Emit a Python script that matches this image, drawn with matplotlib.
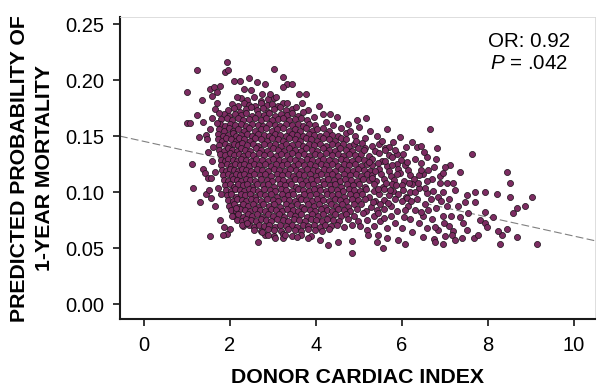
import matplotlib
matplotlib.use("Agg")
import matplotlib.pyplot as plt
import numpy as np

plt.rcParams["font.family"] = ["Liberation Sans", "DejaVu Sans"]
plt.rcParams["mathtext.fontset"] = "custom"
plt.rcParams["mathtext.it"] = "Liberation Sans:italic"
plt.rcParams["mathtext.rm"] = "Liberation Sans"

# donor cardiac index, predicted probability -- pairs
core_upper = [
    2.26, 0.184, 2.41, 0.182, 2.57, 0.185, 2.73, 0.181, 2.88, 0.183, 3.04, 0.184,
    2.06, 0.179, 2.19, 0.177, 2.33, 0.180, 2.45, 0.178, 2.60, 0.177, 2.72, 0.180,
    2.86, 0.178, 2.99, 0.179, 3.12, 0.177, 3.25, 0.180,
    1.96, 0.173, 2.10, 0.175, 2.23, 0.172, 2.37, 0.174, 2.50, 0.176, 2.63, 0.173,
    2.77, 0.175, 2.90, 0.172, 3.03, 0.174, 3.17, 0.176, 3.30, 0.173, 3.44, 0.174,
    1.86, 0.170, 1.99, 0.168, 2.12, 0.170, 2.26, 0.169, 2.39, 0.171, 2.52, 0.168,
    2.66, 0.170, 2.79, 0.169, 2.92, 0.171, 3.06, 0.168, 3.19, 0.170, 3.33, 0.169,
    3.46, 0.171, 3.60, 0.168,
    1.81, 0.165, 1.94, 0.166, 2.06, 0.164, 2.19, 0.166, 2.32, 0.164, 2.46, 0.165,
    2.58, 0.166, 2.72, 0.164, 2.85, 0.166, 2.98, 0.164, 3.12, 0.165, 3.25, 0.166,
    3.38, 0.164, 3.52, 0.165, 3.65, 0.166, 3.79, 0.164,
    1.77, 0.161, 1.90, 0.159, 2.00, 0.161, 2.13, 0.160, 2.26, 0.161, 2.39, 0.159,
    2.52, 0.161, 2.65, 0.160, 2.78, 0.159, 2.91, 0.161, 3.05, 0.160, 3.18, 0.159,
    3.31, 0.161, 3.45, 0.160, 3.58, 0.161, 3.71, 0.159, 3.85, 0.161, 3.98, 0.160,
    1.75, 0.156, 1.87, 0.155, 1.99, 0.157, 2.07, 0.155, 2.20, 0.156, 2.33, 0.155,
    2.46, 0.157, 2.59, 0.155, 2.72, 0.156, 2.85, 0.157, 2.98, 0.155, 3.11, 0.156,
    3.24, 0.157, 3.38, 0.155, 3.51, 0.156, 3.64, 0.155, 3.77, 0.157, 3.91, 0.155,
    4.04, 0.156, 4.18, 0.157, 4.30, 0.155,
    1.73, 0.152, 1.85, 0.150, 1.96, 0.151, 2.08, 0.153, 2.15, 0.150, 2.27, 0.151,
    2.40, 0.152, 2.53, 0.150, 2.66, 0.152, 2.79, 0.151, 2.92, 0.150, 3.05, 0.152,
    3.18, 0.151, 3.31, 0.150, 3.44, 0.152, 3.57, 0.151, 3.70, 0.150, 3.84, 0.152,
    3.97, 0.151, 4.11, 0.150, 4.24, 0.152, 4.37, 0.151, 4.51, 0.150,
]

core_middle = [
    1.72, 0.147, 1.82, 0.146, 1.91, 0.148, 2.02, 0.147, 2.14, 0.146, 2.21, 0.148,
    2.34, 0.147, 2.47, 0.146, 2.60, 0.148, 2.73, 0.147, 2.86, 0.146, 2.99, 0.148,
    3.12, 0.147, 3.25, 0.146, 3.38, 0.148, 3.51, 0.147, 3.64, 0.146, 3.77, 0.148,
    3.90, 0.147, 4.04, 0.146, 4.17, 0.148, 4.31, 0.147, 4.44, 0.146, 4.58, 0.148,
    4.71, 0.147,
    1.75, 0.142, 1.88, 0.143, 1.98, 0.141, 2.09, 0.143, 2.20, 0.142, 2.28, 0.144,
    2.41, 0.142, 2.54, 0.143, 2.67, 0.141, 2.80, 0.143, 2.93, 0.142, 3.06, 0.143,
    3.19, 0.141, 3.32, 0.143, 3.45, 0.142, 3.58, 0.143, 3.71, 0.141, 3.84, 0.143,
    3.97, 0.142, 4.10, 0.143, 4.24, 0.141, 4.37, 0.143, 4.51, 0.142, 4.64, 0.143,
    4.77, 0.141, 4.90, 0.143,
    1.76, 0.138, 1.86, 0.137, 1.95, 0.139, 2.05, 0.138, 2.16, 0.137, 2.26, 0.139,
    2.35, 0.138, 2.48, 0.137, 2.61, 0.139, 2.74, 0.138, 2.87, 0.137, 3.00, 0.139,
    3.13, 0.138, 3.26, 0.137, 3.39, 0.139, 3.52, 0.138, 3.65, 0.137, 3.78, 0.139,
    3.91, 0.138, 4.04, 0.137, 4.17, 0.139, 4.31, 0.138, 4.44, 0.137, 4.57, 0.139,
    4.70, 0.138, 4.84, 0.137, 4.98, 0.139,
    1.78, 0.134, 1.90, 0.133, 2.01, 0.135, 2.11, 0.133, 2.22, 0.134, 2.31, 0.132,
    2.42, 0.134, 2.55, 0.133, 2.68, 0.135, 2.81, 0.133, 2.94, 0.134, 3.07, 0.132,
    3.20, 0.134, 3.33, 0.133, 3.46, 0.135, 3.59, 0.133, 3.72, 0.134, 3.85, 0.132,
    3.98, 0.134, 4.11, 0.133, 4.24, 0.135, 4.38, 0.133, 4.51, 0.134, 4.64, 0.132,
    4.77, 0.134, 4.91, 0.133, 5.05, 0.134,
    1.79, 0.129, 1.88, 0.128, 1.97, 0.130, 2.07, 0.129, 2.17, 0.128, 2.27, 0.130,
    2.37, 0.129, 2.49, 0.128, 2.62, 0.130, 2.75, 0.129, 2.88, 0.128, 3.01, 0.130,
    3.14, 0.129, 3.27, 0.128, 3.40, 0.130, 3.53, 0.129, 3.66, 0.128, 3.79, 0.130,
    3.92, 0.129, 4.05, 0.128, 4.18, 0.130, 4.31, 0.129, 4.45, 0.128, 4.58, 0.130,
    4.71, 0.129, 4.85, 0.128, 4.98, 0.130, 5.12, 0.129,
    1.81, 0.124, 1.93, 0.125, 2.03, 0.123, 2.13, 0.125, 2.23, 0.124, 2.33, 0.125,
    2.44, 0.123, 2.56, 0.125, 2.69, 0.124, 2.82, 0.125, 2.95, 0.123, 3.08, 0.125,
    3.21, 0.124, 3.34, 0.125, 3.47, 0.123, 3.60, 0.125, 3.73, 0.124, 3.86, 0.125,
    3.99, 0.123, 4.12, 0.125, 4.25, 0.124, 4.38, 0.125, 4.52, 0.123, 4.65, 0.125,
    4.78, 0.124, 4.92, 0.125, 5.05, 0.123, 5.19, 0.125, 5.30, 0.124,
    1.83, 0.120, 1.92, 0.119, 2.00, 0.121, 2.09, 0.120, 2.19, 0.119, 2.29, 0.121,
    2.39, 0.120, 2.50, 0.119, 2.63, 0.121, 2.76, 0.120, 2.89, 0.119, 3.02, 0.121,
    3.15, 0.120, 3.28, 0.119, 3.41, 0.121, 3.54, 0.120, 3.67, 0.119, 3.80, 0.121,
    3.93, 0.120, 4.06, 0.119, 4.19, 0.121, 4.32, 0.120, 4.46, 0.119, 4.59, 0.121,
    4.72, 0.120, 4.86, 0.119, 4.99, 0.121, 5.13, 0.120, 5.27, 0.119,
    1.85, 0.115, 1.96, 0.116, 2.05, 0.114, 2.14, 0.116, 2.24, 0.115, 2.34, 0.116,
    2.45, 0.114, 2.57, 0.116, 2.70, 0.115, 2.83, 0.116, 2.96, 0.114, 3.09, 0.116,
    3.22, 0.115, 3.35, 0.116, 3.48, 0.114, 3.61, 0.116, 3.74, 0.115, 3.87, 0.116,
    4.00, 0.114, 4.13, 0.116, 4.26, 0.115, 4.39, 0.116, 4.53, 0.114, 4.66, 0.116,
    4.79, 0.115, 4.93, 0.116, 5.06, 0.114, 5.20, 0.116, 5.31, 0.115,
    1.87, 0.111, 1.97, 0.110, 2.08, 0.112, 2.17, 0.111, 2.27, 0.110, 2.37, 0.112,
    2.48, 0.111, 2.60, 0.110, 2.73, 0.112, 2.86, 0.111, 2.99, 0.110, 3.12, 0.112,
    3.25, 0.111, 3.38, 0.110, 3.51, 0.112, 3.64, 0.111, 3.77, 0.110, 3.90, 0.112,
    4.03, 0.111, 4.16, 0.110, 4.29, 0.112, 4.42, 0.111, 4.56, 0.110, 4.69, 0.112,
    4.82, 0.111, 4.96, 0.110, 5.09, 0.112, 5.23, 0.111,
]

core_lower = [
    1.89, 0.106, 2.00, 0.107, 2.10, 0.105, 2.20, 0.107, 2.30, 0.106, 2.41, 0.107,
    2.52, 0.105, 2.64, 0.107, 2.77, 0.106, 2.90, 0.107, 3.03, 0.105, 3.16, 0.107,
    3.29, 0.106, 3.42, 0.107, 3.55, 0.105, 3.68, 0.107, 3.81, 0.106, 3.94, 0.107,
    4.07, 0.105, 4.20, 0.107, 4.33, 0.106, 4.46, 0.107, 4.60, 0.105, 4.73, 0.107,
    4.86, 0.106, 5.00, 0.107, 5.14, 0.105,
    1.91, 0.102, 2.02, 0.101, 2.12, 0.103, 2.23, 0.102, 2.33, 0.101, 2.44, 0.103,
    2.55, 0.102, 2.67, 0.101, 2.80, 0.103, 2.93, 0.102, 3.06, 0.101, 3.19, 0.103,
    3.32, 0.102, 3.45, 0.101, 3.58, 0.103, 3.71, 0.102, 3.84, 0.101, 3.97, 0.103,
    4.10, 0.102, 4.23, 0.101, 4.36, 0.103, 4.50, 0.102, 4.63, 0.101, 4.77, 0.103,
    4.90, 0.102, 5.04, 0.101, 5.17, 0.103,
    1.93, 0.097, 2.04, 0.098, 2.15, 0.096, 2.26, 0.098, 2.36, 0.097, 2.47, 0.098,
    2.58, 0.096, 2.70, 0.098, 2.83, 0.097, 2.96, 0.098, 3.09, 0.096, 3.22, 0.098,
    3.35, 0.097, 3.48, 0.098, 3.61, 0.096, 3.74, 0.098, 3.87, 0.097, 4.00, 0.098,
    4.13, 0.096, 4.26, 0.098, 4.39, 0.097, 4.53, 0.098, 4.66, 0.096, 4.80, 0.098,
    4.94, 0.097, 5.08, 0.098,
    1.96, 0.093, 2.07, 0.092, 2.18, 0.094, 2.29, 0.093, 2.39, 0.092, 2.50, 0.094,
    2.62, 0.093, 2.74, 0.092, 2.87, 0.094, 3.00, 0.093, 3.13, 0.092, 3.26, 0.094,
    3.39, 0.093, 3.52, 0.092, 3.65, 0.094, 3.78, 0.093, 3.91, 0.092, 4.04, 0.094,
    4.17, 0.093, 4.30, 0.092, 4.44, 0.094, 4.57, 0.093, 4.71, 0.092, 4.84, 0.094,
    4.98, 0.093,
    1.99, 0.088, 2.10, 0.089, 2.21, 0.087, 2.32, 0.089, 2.43, 0.088, 2.54, 0.089,
    2.66, 0.087, 2.78, 0.089, 2.91, 0.088, 3.04, 0.089, 3.17, 0.087, 3.30, 0.089,
    3.43, 0.088, 3.56, 0.089, 3.69, 0.087, 3.82, 0.089, 3.95, 0.088, 4.08, 0.089,
    4.21, 0.087, 4.35, 0.089, 4.48, 0.088, 4.62, 0.089, 4.75, 0.087, 4.89, 0.089,
    2.03, 0.084, 2.14, 0.083, 2.25, 0.085, 2.36, 0.084, 2.47, 0.083, 2.58, 0.085,
    2.70, 0.084, 2.82, 0.083, 2.95, 0.085, 3.08, 0.084, 3.21, 0.083, 3.34, 0.085,
    3.47, 0.084, 3.60, 0.083, 3.73, 0.085, 3.86, 0.084, 3.99, 0.083, 4.12, 0.085,
    4.26, 0.084, 4.39, 0.083, 4.53, 0.085, 4.66, 0.084, 4.80, 0.083,
    2.09, 0.079, 2.20, 0.080, 2.31, 0.078, 2.42, 0.080, 2.53, 0.079, 2.64, 0.080,
    2.76, 0.078, 2.88, 0.080, 3.01, 0.079, 3.14, 0.080, 3.27, 0.078, 3.40, 0.080,
    3.53, 0.079, 3.66, 0.080, 3.79, 0.078, 3.92, 0.080, 4.05, 0.079, 4.18, 0.080,
    4.31, 0.078, 4.45, 0.080, 4.58, 0.079, 4.71, 0.080,
    2.16, 0.075, 2.28, 0.074, 2.39, 0.076, 2.50, 0.075, 2.61, 0.074, 2.72, 0.076,
    2.84, 0.075, 2.97, 0.074, 3.10, 0.076, 3.23, 0.075, 3.36, 0.074, 3.49, 0.076,
    3.62, 0.075, 3.75, 0.074, 3.88, 0.076, 4.01, 0.075, 4.14, 0.074, 4.27, 0.076,
    4.41, 0.075, 4.55, 0.074,
    2.31, 0.070, 2.44, 0.071, 2.56, 0.069, 2.68, 0.071, 2.80, 0.070, 2.92, 0.071,
    3.05, 0.069, 3.18, 0.071, 3.31, 0.070, 3.44, 0.071, 3.57, 0.069, 3.70, 0.071,
    3.83, 0.070, 3.96, 0.071, 4.09, 0.069, 4.22, 0.071, 4.36, 0.070, 4.49, 0.071,
    2.56, 0.066, 2.72, 0.065, 2.88, 0.067, 3.03, 0.066, 3.19, 0.065, 3.35, 0.067,
    3.51, 0.066, 3.67, 0.065, 3.83, 0.067, 3.99, 0.066, 4.15, 0.065, 4.30, 0.067,
    2.82, 0.062, 3.02, 0.061, 3.24, 0.063, 3.45, 0.061, 3.66, 0.062, 3.88, 0.061,
]

fringe_right = [
    4.70, 0.153, 4.92, 0.150, 4.93, 0.146, 5.15, 0.148, 5.08, 0.144, 5.30, 0.141,
    5.48, 0.143, 5.15, 0.139, 5.38, 0.137, 5.62, 0.139, 5.25, 0.132, 5.47, 0.135,
    5.70, 0.133, 5.88, 0.134, 5.32, 0.130, 5.55, 0.128, 5.78, 0.131, 5.98, 0.129,
    5.45, 0.126, 5.66, 0.123, 5.88, 0.125, 6.08, 0.124, 5.48, 0.121, 5.70, 0.119,
    5.92, 0.121, 6.15, 0.120, 5.52, 0.116, 5.74, 0.114, 5.96, 0.117, 6.20, 0.115,
    5.40, 0.110, 5.60, 0.112, 5.82, 0.111, 6.05, 0.110, 6.28, 0.112, 5.35, 0.107,
    5.56, 0.105, 5.78, 0.107, 6.00, 0.106, 6.25, 0.107, 5.36, 0.101, 5.58, 0.103,
    5.80, 0.101, 6.02, 0.102, 6.20, 0.100, 5.25, 0.096, 5.47, 0.098, 5.70, 0.097,
    5.92, 0.098, 6.10, 0.096, 5.15, 0.094, 5.38, 0.092, 5.60, 0.093, 5.85, 0.094,
    6.00, 0.092, 5.05, 0.089, 5.28, 0.087, 5.50, 0.089, 5.76, 0.088, 4.95, 0.085,
    5.18, 0.083, 5.42, 0.084, 5.60, 0.085, 4.88, 0.079, 5.10, 0.081, 5.35, 0.079,
    4.75, 0.076, 4.98, 0.074, 5.20, 0.075, 4.66, 0.069, 4.85, 0.071, 5.02, 0.070,
    6.30, 0.130, 6.45, 0.126, 6.60, 0.131, 6.75, 0.122, 6.50, 0.116, 6.70, 0.112,
    6.90, 0.108, 6.40, 0.104, 6.60, 0.099, 6.85, 0.096, 6.35, 0.094, 6.55, 0.089,
    6.80, 0.086, 7.05, 0.088, 6.30, 0.084, 6.50, 0.079, 6.70, 0.076, 6.95, 0.079,
    6.40, 0.072, 6.60, 0.068, 6.85, 0.066, 7.10, 0.070, 6.25, 0.064, 6.50, 0.060,
    6.75, 0.058, 7.00, 0.061, 7.20, 0.065, 6.20, 0.076, 6.15, 0.088, 6.95, 0.100,
    7.10, 0.094, 7.30, 0.088, 7.15, 0.079, 6.40, 0.115, 6.10, 0.140, 6.25, 0.145,
    5.95, 0.149, 5.80, 0.145, 5.92, 0.057, 6.08, 0.054, 6.77, 0.055, 6.97, 0.054,
    6.77, 0.069, 7.17, 0.062, 7.24, 0.057, 5.20, 0.066, 5.35, 0.070, 5.50, 0.074,
    5.75, 0.079, 5.90, 0.083, 5.65, 0.068, 5.85, 0.072, 6.05, 0.078, 5.45, 0.062,
    6.00, 0.068,
    5.12, 0.138, 5.25, 0.127, 5.38, 0.119, 5.30, 0.113, 5.44, 0.103, 5.33, 0.091,
    5.46, 0.081, 5.58, 0.077, 5.68, 0.090, 5.72, 0.102, 5.64, 0.108, 5.86, 0.106,
    5.90, 0.116, 5.78, 0.124, 5.62, 0.128, 5.70, 0.140, 5.85, 0.138, 6.02, 0.134,
    6.12, 0.127, 6.18, 0.108, 6.12, 0.095, 6.08, 0.084, 6.22, 0.092, 6.32, 0.100,
    6.38, 0.108, 6.45, 0.120, 6.58, 0.110, 6.62, 0.120, 6.55, 0.104, 6.68, 0.094,
    6.45, 0.082, 6.62, 0.084, 6.72, 0.101, 6.88, 0.114, 6.80, 0.130, 6.92, 0.092,
    6.98, 0.072, 7.05, 0.108, 6.35, 0.140, 6.52, 0.136,
]

outliers = [
    1.01, 0.189, 1.24, 0.209, 1.36, 0.182, 1.24, 0.169, 1.00, 0.162, 1.08, 0.162,
    1.38, 0.163, 1.28, 0.149, 1.45, 0.151, 1.12, 0.125, 1.14, 0.104, 1.31, 0.091,
    1.54, 0.192, 1.64, 0.194, 1.71, 0.189, 1.59, 0.186, 1.77, 0.195, 1.71, 0.180,
    1.66, 0.174, 1.76, 0.171, 1.59, 0.166, 1.71, 0.162, 1.54, 0.156, 1.47, 0.147,
    1.50, 0.136, 1.62, 0.140, 1.58, 0.128, 1.65, 0.118, 1.45, 0.098, 1.52, 0.102,
    1.57, 0.095, 1.66, 0.088, 1.38, 0.121, 1.43, 0.117, 1.50, 0.113, 1.57, 0.113,
    1.73, 0.104, 1.80, 0.098, 1.77, 0.075, 1.87, 0.069, 1.94, 0.063, 2.01, 0.067,
    2.06, 0.079, 2.14, 0.086, 1.55, 0.061, 1.85, 0.062, 2.29, 0.071, 2.40, 0.072,
    2.66, 0.055, 2.76, 0.064, 2.89, 0.062, 3.05, 0.059, 3.24, 0.059, 3.29, 0.062,
    3.56, 0.060, 3.82, 0.059, 4.10, 0.057, 4.29, 0.053, 4.52, 0.055, 4.84, 0.046,
    4.84, 0.056, 5.21, 0.062, 5.42, 0.055, 5.57, 0.050, 5.66, 0.059,
    1.94, 0.216, 1.89, 0.207, 1.96, 0.209, 3.03, 0.210, 3.24, 0.203, 3.34, 0.197,
    3.45, 0.197, 2.45, 0.202, 2.64, 0.198, 2.24, 0.199, 2.10, 0.199, 2.33, 0.192,
    2.50, 0.191, 3.24, 0.194, 3.61, 0.188, 3.78, 0.188, 2.94, 0.188, 3.08, 0.185,
    4.08, 0.177, 3.34, 0.180, 3.68, 0.180, 3.82, 0.173, 4.17, 0.170, 4.33, 0.170,
    4.49, 0.167, 4.96, 0.164, 5.17, 0.166, 2.17, 0.185, 2.75, 0.188, 2.83, 0.197,
    3.95, 0.167, 3.70, 0.172, 3.55, 0.176, 4.25, 0.163, 4.40, 0.160, 4.60, 0.157,
    4.80, 0.155, 5.00, 0.158, 4.75, 0.161, 5.26, 0.155, 5.42, 0.150, 5.54, 0.146,
    5.61, 0.138, 5.66, 0.156, 6.66, 0.156, 6.45, 0.141, 6.82, 0.139, 7.64, 0.134,
    7.12, 0.124, 6.97, 0.117, 7.36, 0.118, 7.00, 0.122, 7.20, 0.108, 7.24, 0.102,
    7.52, 0.097, 7.70, 0.100, 7.47, 0.091, 7.70, 0.091, 7.94, 0.100, 7.94, 0.082,
    7.82, 0.075, 8.12, 0.078, 8.22, 0.098, 8.45, 0.118, 8.52, 0.108, 8.52, 0.096,
    9.03, 0.096, 8.87, 0.088, 8.69, 0.086, 8.60, 0.081, 9.15, 0.054, 8.67, 0.060,
    8.29, 0.054, 8.33, 0.062, 8.25, 0.065, 8.45, 0.067, 7.94, 0.072, 7.99, 0.069,
    7.43, 0.072, 7.52, 0.066, 7.69, 0.059, 7.78, 0.062, 7.40, 0.059, 7.55, 0.081,
    7.36, 0.078,
]

# logistic fit drawn as a dashed line across the axes
fit_ci = [-0.55, 10.5]
fit_prob = [0.150, 0.0565]

x_ticks = [0, 2, 4, 6, 8, 10]
y_ticks = [0.00, 0.05, 0.10, 0.15, 0.20, 0.25]


def main() -> None:
    pts = np.array(core_upper + core_middle + core_lower + fringe_right + outliers).reshape(-1, 2)

    fig = plt.figure(figsize=(5.97, 3.90), dpi=100)
    ax = fig.add_axes([0.201, 0.182, 0.796, 0.774])

    ax.plot(fit_ci, fit_prob, color="#808080", lw=0.8, dashes=(7, 3), zorder=1)
    ax.scatter(pts[:, 0], pts[:, 1], s=19, facecolor="#7d2c62",
               edgecolor="#231520", linewidth=0.55, zorder=2)

    ax.set_xlim(-0.55, 10.5)
    ax.set_ylim(-0.0134, 0.2563)
    ax.set_xticks(x_ticks)
    ax.set_yticks(y_ticks)
    ax.set_yticklabels([f"{v:.2f}" for v in y_ticks])

    ax.tick_params(direction="out", length=5.3, width=1.1, labelsize=14.5)
    ax.tick_params(axis="x", pad=7)
    ax.tick_params(axis="y", pad=6)

    for side in ("left", "bottom"):
        ax.spines[side].set_linewidth(1.5)
        ax.spines[side].set_color("#1a1a1a")
    for side in ("top", "right"):
        ax.spines[side].set_linewidth(0.6)
        ax.spines[side].set_color("#d8d8d8")

    ax.set_xlabel("DONOR CARDIAC INDEX", fontsize=15.3, fontweight="bold", labelpad=9)
    ax.set_ylabel("PREDICTED PROBABILITY OF\n1-YEAR MORTALITY", fontsize=15.3,
                  fontweight="bold", labelpad=8, linespacing=1.42)

    ax.text(0.861, 0.918, "OR: 0.92", transform=ax.transAxes, ha="center",
            va="center", fontsize=14.8)
    ax.text(0.861, 0.847, "$P$ = .042", transform=ax.transAxes, ha="center",
            va="center", fontsize=14.8)

    fig.savefig("out.png", dpi=100)
    plt.close(fig)


if __name__ == "__main__":
    main()
